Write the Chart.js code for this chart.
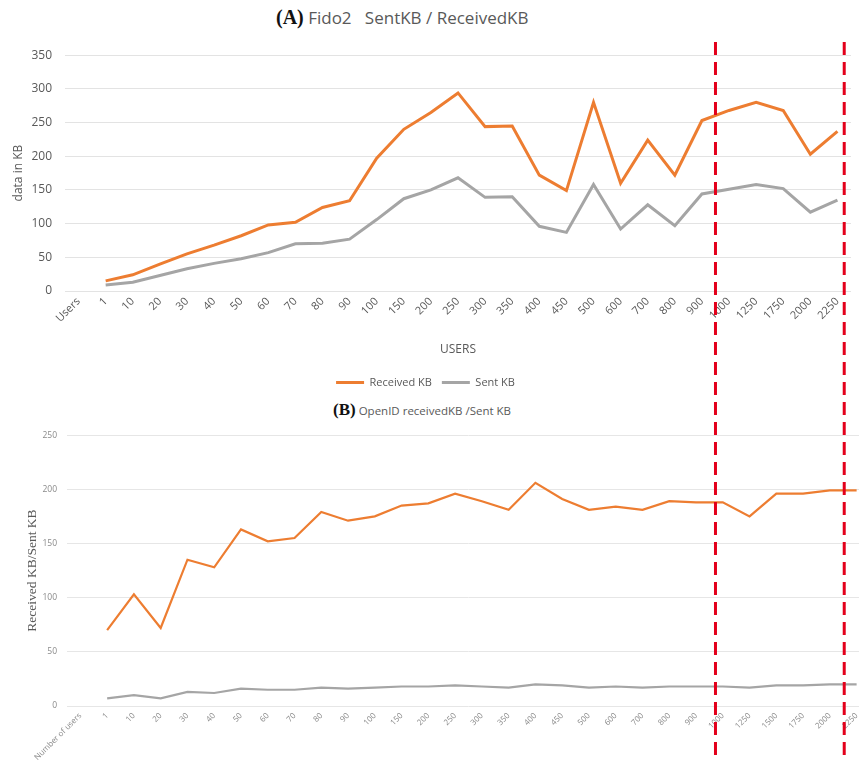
<!DOCTYPE html>
<html>
<head>
<meta charset="utf-8">
<script src="https://cdn.jsdelivr.net/npm/chart.js@4/dist/chart.umd.min.js"></script>
<style>
  html, body { margin: 0; padding: 0; background: #fff; }
  body { width: 859px; height: 762px; overflow: hidden; position: relative; }
  .box { position: absolute; }
  .title { position: absolute; white-space: nowrap; color: #595959; font-family: "Open Sans", sans-serif; }
  .title b { font-family: "Liberation Serif", serif; color: #111; }
  #marks { position: absolute; left: 0; top: 0; pointer-events: none; }
</style>
</head>
<body>
<div class="title" style="left:276px; top:6px; font-size:17px;"><b style="font-size:20px">(A)</b> Fido2&nbsp;&nbsp; SentKB / ReceivedKB</div>
<div class="title" style="left:333px; top:400px; font-size:11.5px;"><b style="font-size:17px">(B)</b> OpenID receivedKB /Sent KB</div>
<div class="box" style="left:0; top:35px; width:859px; height:363px;"><canvas id="chartA"></canvas></div>
<div class="box" style="left:0; top:420px; width:880px; height:342px;"><canvas id="chartB"></canvas></div>
<svg id="marks" width="859" height="762"></svg>
<script>
// (A) Fido2
const usersA = ['Users','1','10','20','30','40','50','60','70','80','90','100','150','200','250','300','350','400','450','500','600','700','800','900','1000','1250','1750','2000','2250'];
const receivedA = [null,15,24,40,55,68,82,98,102,124,134,197,240,265,294,244,245,172,149,280,160,224,172,253,268,280,268,203,237];
const sentA = [null,9,13,23,33,41,48,57,70,71,77,106,137,150,168,139,140,96,87,158,92,128,97,144,151,158,152,117,135];

// (B) OpenID
const usersB = ['Number of users','1','10','20','30','40','50','60','70','80','90','100','150','200','250','300','350','400','450','500','600','700','800','900','1000','1250','1500','1750','2000','2250'];
const receivedB = [null,70,103,72,135,128,163,152,155,179,171,175,185,187,196,189,181,206,191,181,184,181,189,188,188,175,196,196,199,199];
const sentB = [null,7,10,7,13,12,16,15,15,17,16,17,18,18,19,18,17,20,19,17,18,17,18,18,18,17,19,19,20,20];

const orange = '#ED7D31';
const grey = '#A5A5A5';
const font = '"Open Sans", sans-serif';

const chartA = new Chart(document.getElementById('chartA'), {
  type: 'line',
  data: {
    labels: usersA,
    datasets: [
      { label: 'Received KB', data: receivedA, borderColor: orange, backgroundColor: orange, borderWidth: 3, pointRadius: 0, tension: 0 },
      { label: 'Sent KB', data: sentA, borderColor: grey, backgroundColor: grey, borderWidth: 3, pointRadius: 0, tension: 0 }
    ]
  },
  options: {
    responsive: true,
    maintainAspectRatio: false,
    animation: false,
    layout: { padding: { top: 18, bottom: 0, left: 0, right: 8 } },
    plugins: {
      tooltip: { enabled: false },
      legend: {
        position: 'bottom',
        labels: { usePointStyle: true, pointStyle: 'line', pointStyleWidth: 28, padding: 10,
                  color: '#595959', font: { family: font, size: 11 } }
      }
    },
    scales: {
      x: {
        offset: true,
        grid: { display: false, drawTicks: false },
        border: { display: false },
        ticks: { autoSkip: false, minRotation: 45, maxRotation: 45, padding: 4, color: '#595959', font: { family: font, size: 11 } },
        title: { display: true, text: 'USERS', color: '#595959', font: { family: font, size: 12 }, padding: { top: 0, bottom: 10 } },
        afterFit: s => { s.height = 76; s.paddingLeft = 0; s.paddingRight = 0; }
      },
      y: {
        min: 0, max: 350,
        grid: { color: '#e3e3e3', drawTicks: false },
        border: { display: false },
        ticks: { stepSize: 50, padding: 13, color: '#595959', font: { family: font, size: 12 } },
        title: { display: true, text: 'data in KB', color: '#595959', font: { family: font, size: 12 }, padding: { top: 11, bottom: 0 } },
        afterFit: s => { s.width = 65; }
      }
    }
  }
});

const chartB = new Chart(document.getElementById('chartB'), {
  type: 'line',
  data: {
    labels: usersB,
    datasets: [
      { label: 'Received KB', data: receivedB, borderColor: orange, borderWidth: 2.2, pointRadius: 0, tension: 0 },
      { label: 'Sent KB', data: sentB, borderColor: grey, borderWidth: 2.2, pointRadius: 0, tension: 0 }
    ]
  },
  options: {
    responsive: true,
    maintainAspectRatio: false,
    animation: false,
    layout: { padding: { top: 13, bottom: 0, left: 0, right: 10 } },
    plugins: { legend: { display: false }, tooltip: { enabled: false } },
    scales: {
      x: {
        offset: true,
        grid: { display: false, drawTicks: false },
        border: { display: false },
        ticks: { autoSkip: false, minRotation: 45, maxRotation: 45, padding: 5, color: '#8a8a8a', font: { family: font, size: 8 } },
        afterFit: s => { s.height = 56; s.paddingLeft = 0; s.paddingRight = 0; }
      },
      y: {
        min: 0, max: 250,
        grid: { color: '#e6e6e6', drawTicks: false },
        border: { display: false },
        ticks: { stepSize: 50, padding: 10, color: '#8a8a8a', font: { family: font, size: 8.5 } },
        title: { display: true, text: 'Received KB/Sent KB', color: '#595959', font: { family: '"Liberation Serif", serif', size: 13.5 }, padding: { top: 24, bottom: 0 } },
        afterFit: s => { s.width = 67; }
      }
    }
  }
});

// red dashed markers spanning both panels, placed from panel A's category scale
const svg = document.getElementById('marks');
const xa = chartA.scales.x;
[23.5, 28.25].forEach(v => {
  const x = xa.getPixelForValue(v);
  const ln = document.createElementNS('http://www.w3.org/2000/svg', 'line');
  ln.setAttribute('x1', x); ln.setAttribute('x2', x);
  ln.setAttribute('y1', 42); ln.setAttribute('y2', 762);
  ln.setAttribute('stroke', '#E3001B');
  ln.setAttribute('stroke-width', 3);
  ln.setAttribute('stroke-dasharray', '13 7');
  svg.appendChild(ln);
});
</script>
</body>
</html>
